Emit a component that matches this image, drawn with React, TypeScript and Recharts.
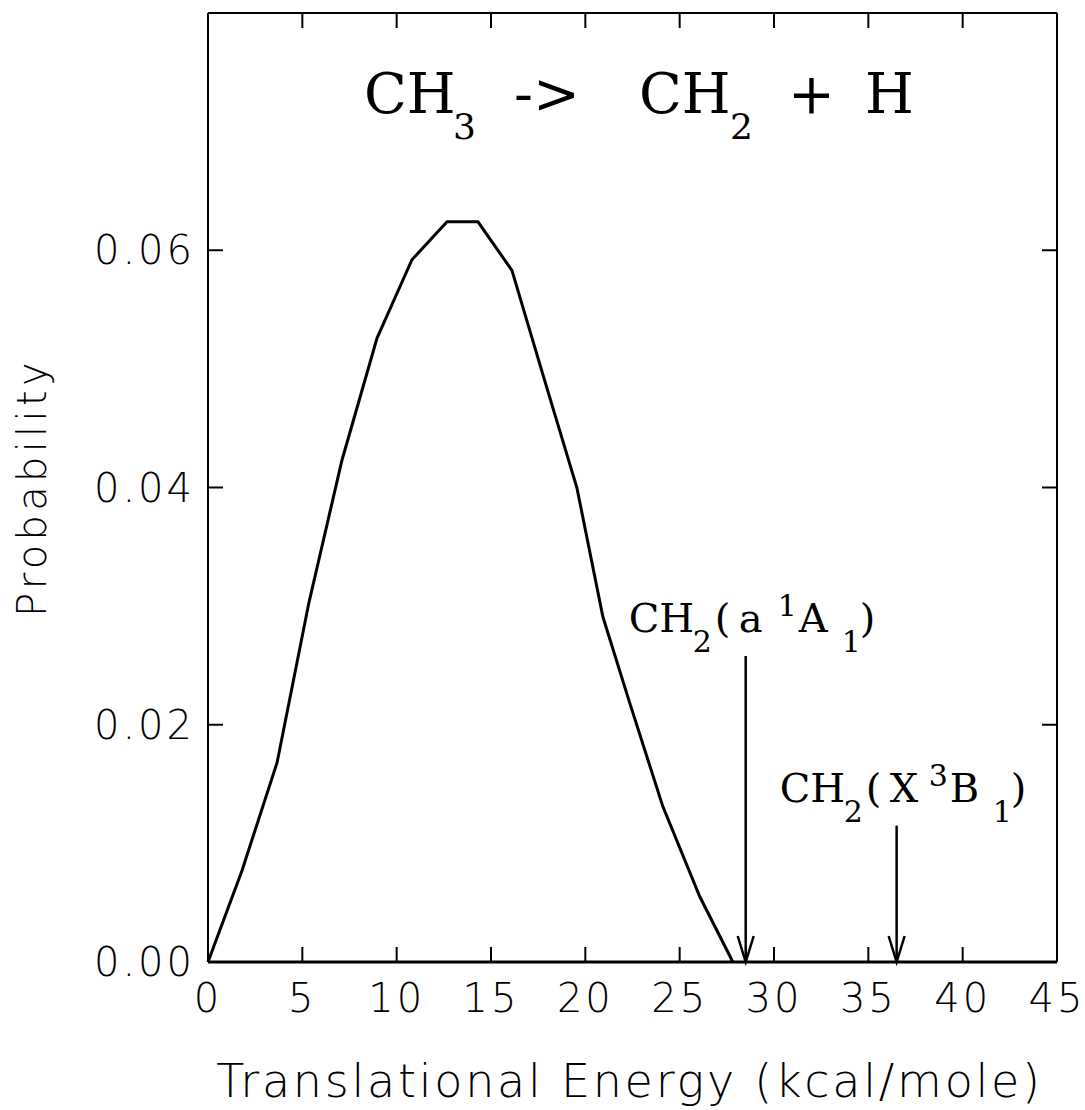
import React from 'react';
import {
  LineChart,
  Line,
  XAxis,
  YAxis,
  ReferenceLine,
  Customized,
} from 'recharts';

// P(E_T)
const energy = [0, 1.8, 3.66, 5.35, 7.1, 8.96, 10.81, 12.67, 14.31, 16.11, 17.81, 19.55, 20.93, 22.36, 24.11, 26.07, 27.82];
const probability = [0, 0.0077, 0.0168, 0.0303, 0.0423, 0.0526, 0.0592, 0.0624, 0.0624, 0.0583, 0.0492, 0.04, 0.0291, 0.0218, 0.0131, 0.0055, 0];

const xTicks = [0, 5, 10, 15, 20, 25, 30, 35, 40, 45];
const yTicks = [0, 0.02, 0.04, 0.06];
const innerXTicks = [5, 10, 15, 20, 25, 30, 35, 40];
const innerYTicks = [0.02, 0.04, 0.06];
const xDomain = [0, 45];
const yDomain = [0, 0.08];

// thresholds for the two CH2 product states
const thresholdEnergy = [28.5, 36.5];
const thresholdTop = [0.0258, 0.0115];
const stateLetter = ['a', 'X'];
const stateSpin = ['1', '3'];
const stateSymmetry = ['A', 'B'];

const data = energy.map((e, i) => ({ e, p: probability[i] }));

const SANS = '"DejaVu Sans", sans-serif';
const SERIF = '"DejaVu Serif", serif';
const TICK_LEN = 15;

const tickStyle = { fill: '#000', fontSize: 40, fontFamily: SANS, fontWeight: 200, letterSpacing: 3 };

// x tick: a segment running along the frame from the tick value; mark drawn inward at its start
const xTickShape = (dir: number) => (props: any) => {
  const x = Math.min(props.x1, props.x2);
  const y = props.y1;
  return (
    <g stroke="#000" strokeWidth={2}>
      <line x1={x} x2={x} y1={y} y2={y + dir * TICK_LEN} />
    </g>
  );
};

// y tick: segment across the plot, inward marks on the left and right frame
const yTickShape = (props: any) => {
  const { x1, x2, y1 } = props;
  const left = Math.min(x1, x2);
  const right = Math.max(x1, x2);
  return (
    <g stroke="#000" strokeWidth={2}>
      <line x1={left} x2={left + TICK_LEN} y1={y1} y2={y1} />
      <line x1={right} x2={right - TICK_LEN} y1={y1} y2={y1} />
    </g>
  );
};

const arrowShape = (i: number) => (props: any) => {
  const { x1, y1, y2 } = props;
  const top = Math.min(y1, y2);
  const tip = Math.max(y1, y2);
  const lx = x1 - 117;
  const ly = top - 24;
  return (
    <g>
      <line x1={x1} y1={top} x2={x1} y2={tip} stroke="#000" strokeWidth={2.5} />
      <polyline
        points={`${x1 - 8},${tip - 26} ${x1},${tip} ${x1 + 8},${tip - 26}`}
        fill="none"
        stroke="#000"
        strokeWidth={2.5}
      />
      <text fontFamily={SERIF} fontSize={40} fill="#000">
        <tspan x={lx} y={ly}>CH</tspan>
        <tspan x={lx + 64} y={ly + 20} fontSize={30}>2</tspan>
        <tspan x={lx + 86} y={ly}>(</tspan>
        <tspan x={lx + 110} y={ly}>{stateLetter[i]}</tspan>
        <tspan x={lx + 149} y={ly - 16} fontSize={30}>{stateSpin[i]}</tspan>
        <tspan x={lx + 170} y={ly}>{stateSymmetry[i]}</tspan>
        <tspan x={lx + 213} y={ly + 20} fontSize={30}>1</tspan>
        <tspan x={lx + 231} y={ly}>)</tspan>
      </text>
    </g>
  );
};

const Title = () => (
  <text fontFamily={SERIF} fontSize={56} fill="#000">
    <tspan x={364} y={113}>CH</tspan>
    <tspan x={453} y={139} fontSize={36}>3</tspan>
    <tspan x={514} y={113}>-&gt;</tspan>
    <tspan x={639} y={113}>CH</tspan>
    <tspan x={730} y={139} fontSize={36}>2</tspan>
    <tspan x={788} y={113}>+</tspan>
    <tspan x={865} y={113}>H</tspan>
  </text>
);

export default function App() {
  return (
    <div style={{ position: 'absolute', left: 0, top: 0, background: '#fff' }}>
      <LineChart
        width={1085}
        height={1110}
        data={data}
        margin={{ top: 12, right: 27, bottom: 0, left: 0 }}
      >
        <XAxis
          dataKey="e"
          type="number"
          domain={xDomain}
          ticks={xTicks}
          height={148}
          axisLine={{ stroke: '#000', strokeWidth: 3 }}
          tickLine={false}
          tickSize={0}
          tickMargin={22}
          tick={tickStyle}
          interval={0}
          label={{
            content: ({ viewBox }: any) => (
              <text
                x={viewBox.x + viewBox.width / 2 - 3}
                y={viewBox.y + 135}
                textAnchor="middle"
                fontFamily={SANS}
                fontWeight={200}
                fontSize={46}
                letterSpacing={2.75}
                fill="#000"
              >
                Translational Energy (kcal/mole)
              </text>
            ),
          }}
        />
        <XAxis
          xAxisId="top"
          orientation="top"
          dataKey="e"
          type="number"
          domain={xDomain}
          height={1}
          axisLine={{ stroke: '#000', strokeWidth: 2 }}
          tickLine={false}
          tick={false}
        />
        <YAxis
          type="number"
          domain={yDomain}
          ticks={yTicks}
          width={208}
          axisLine={{ stroke: '#000', strokeWidth: 2 }}
          tickLine={false}
          tickSize={0}
          tickMargin={13}
          tick={tickStyle}
          interval={0}
          tickFormatter={(v: number) => v.toFixed(2)}
          label={{
            content: ({ viewBox }: any) => {
              const cx = viewBox.x + 32;
              const cy = viewBox.y + viewBox.height / 2;
              return (
                <text
                  x={cx}
                  y={cy}
                  transform={`rotate(-90 ${cx} ${cy})`}
                  textAnchor="middle"
                  dominantBaseline="central"
                  fontFamily={SANS}
                  fontWeight={200}
                  fontSize={40}
                  letterSpacing={4.3}
                  fill="#000"
                >
                  Probability
                </text>
              );
            },
          }}
        />
        <YAxis
          yAxisId="right"
          orientation="right"
          type="number"
          domain={yDomain}
          width={1}
          axisLine={{ stroke: '#000', strokeWidth: 2 }}
          tickLine={false}
          tick={false}
        />
        <Line
          type="linear"
          dataKey="p"
          stroke="#000"
          strokeWidth={3}
          dot={false}
          activeDot={false}
          isAnimationActive={false}
        />
        {innerYTicks.map((t) => (
          <ReferenceLine
            key={`y-${t}`}
            ifOverflow="visible"
            segment={[
              { x: xDomain[0], y: t },
              { x: xDomain[1], y: t },
            ]}
            shape={yTickShape}
          />
        ))}
        {innerXTicks.map((t) => (
          <ReferenceLine
            key={`xb-${t}`}
            ifOverflow="visible"
            segment={[
              { x: t, y: yDomain[0] },
              { x: xDomain[1], y: yDomain[0] },
            ]}
            shape={xTickShape(-1)}
          />
        ))}
        {innerXTicks.map((t) => (
          <ReferenceLine
            key={`xt-${t}`}
            ifOverflow="visible"
            segment={[
              { x: t, y: yDomain[1] },
              { x: xDomain[1], y: yDomain[1] },
            ]}
            shape={xTickShape(1)}
          />
        ))}
        {thresholdEnergy.map((e, i) => (
          <ReferenceLine
            key={`arrow-${i}`}
            segment={[
              { x: e, y: thresholdTop[i] },
              { x: e, y: 0 },
            ]}
            shape={arrowShape(i)}
          />
        ))}
        <Customized component={Title} />
      </LineChart>
    </div>
  );
}
